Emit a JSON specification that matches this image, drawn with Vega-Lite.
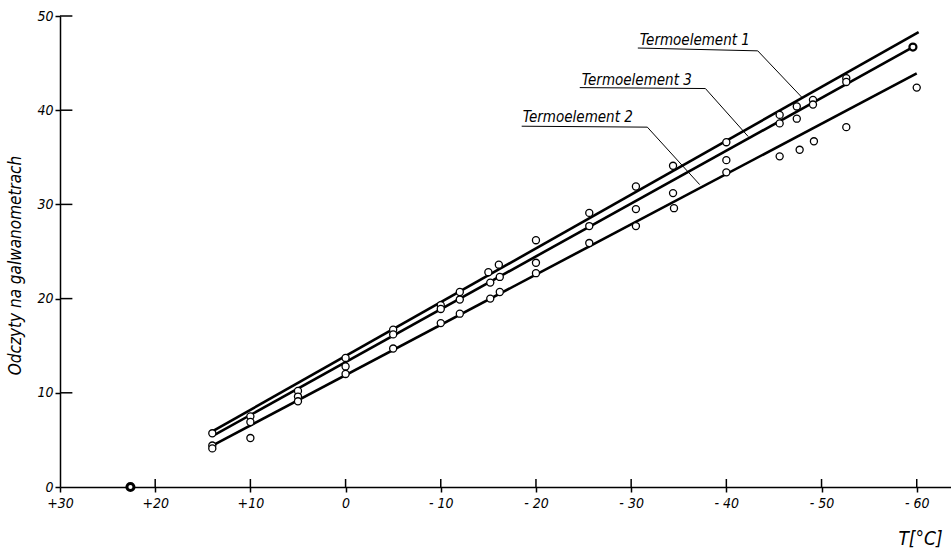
{
  "$schema": "https://vega.github.io/schema/vega-lite/v6.json",
  "autosize": "none",
  "width": 891,
  "height": 471,
  "padding": {"left": 60, "top": 16, "right": 0, "bottom": 62},
  "background": "white",
  "config": {
    "view": {"stroke": null},
    "font": "DejaVu Sans Condensed, DejaVu Sans, sans-serif",
    "axis": {
      "domainColor": "black", "domainWidth": 1.5, "tickColor": "black", "tickWidth": 1.5,
      "labelColor": "black", "titleColor": "black", "grid": false,
      "labelFont": "DejaVu Sans Condensed, DejaVu Sans, sans-serif", "labelFontStyle": "italic", "labelFontSize": 14, "labelFontWeight": "normal",
      "titleFont": "DejaVu Sans Condensed, DejaVu Sans, sans-serif", "titleFontStyle": "italic", "titleFontWeight": "normal"
    }
  },
  "datasets": {
    "points": [
      {"T": 22.6, "R": 0, "s": "1"}, {"T": 22.6, "R": 0, "s": "2"}, {"T": 22.6, "R": 0, "s": "3"},
      {"T": 14, "R": 5.7, "s": "1"}, {"T": 14, "R": 4.4, "s": "2"}, {"T": 14, "R": 4.1, "s": "3"},
      {"T": 10, "R": 7.5, "s": "1"}, {"T": 10, "R": 6.9, "s": "3"}, {"T": 10, "R": 5.2, "s": "2"},
      {"T": 5, "R": 10.2, "s": "1"}, {"T": 5, "R": 9.6, "s": "3"}, {"T": 5, "R": 9.1, "s": "2"},
      {"T": 0, "R": 13.7, "s": "1"}, {"T": 0, "R": 12.8, "s": "3"}, {"T": 0, "R": 12.0, "s": "2"},
      {"T": -5, "R": 16.7, "s": "1"}, {"T": -5, "R": 16.2, "s": "3"}, {"T": -5, "R": 14.7, "s": "2"},
      {"T": -10, "R": 19.3, "s": "1"}, {"T": -10, "R": 18.9, "s": "3"}, {"T": -10, "R": 17.4, "s": "2"},
      {"T": -12, "R": 20.7, "s": "1"}, {"T": -12, "R": 19.9, "s": "3"}, {"T": -12, "R": 18.4, "s": "2"},
      {"T": -15, "R": 22.8, "s": "1"}, {"T": -15.2, "R": 21.7, "s": "3"}, {"T": -15.2, "R": 20.0, "s": "2"},
      {"T": -16.1, "R": 23.6, "s": "1"}, {"T": -16.2, "R": 22.3, "s": "3"}, {"T": -16.2, "R": 20.7, "s": "2"},
      {"T": -20, "R": 26.2, "s": "1"}, {"T": -20, "R": 23.8, "s": "3"}, {"T": -20, "R": 22.7, "s": "2"},
      {"T": -25.6, "R": 29.1, "s": "1"}, {"T": -25.6, "R": 27.7, "s": "3"}, {"T": -25.6, "R": 25.9, "s": "2"},
      {"T": -30.5, "R": 31.9, "s": "1"}, {"T": -30.5, "R": 29.5, "s": "3"}, {"T": -30.5, "R": 27.7, "s": "2"},
      {"T": -34.4, "R": 34.1, "s": "1"}, {"T": -34.4, "R": 31.2, "s": "3"}, {"T": -34.5, "R": 29.6, "s": "2"},
      {"T": -40, "R": 36.6, "s": "1"}, {"T": -40, "R": 34.7, "s": "3"}, {"T": -40, "R": 33.4, "s": "2"},
      {"T": -45.6, "R": 39.5, "s": "1"}, {"T": -45.6, "R": 38.6, "s": "3"}, {"T": -45.6, "R": 35.1, "s": "2"},
      {"T": -47.4, "R": 40.4, "s": "1"}, {"T": -47.4, "R": 39.1, "s": "3"}, {"T": -47.7, "R": 35.8, "s": "2"},
      {"T": -49.1, "R": 41.1, "s": "1"}, {"T": -49.1, "R": 40.6, "s": "3"}, {"T": -49.2, "R": 36.7, "s": "2"},
      {"T": -52.6, "R": 43.4, "s": "1"}, {"T": -52.6, "R": 43.0, "s": "3"}, {"T": -52.6, "R": 38.2, "s": "2"},
      {"T": -59.6, "R": 46.7, "s": "1"}, {"T": -59.6, "R": 46.7, "s": "3"}, {"T": -60, "R": 42.4, "s": "2"}
    ],
    "fits": [
      {"T": 14, "R": 5.9, "s": "1"}, {"T": -60.2, "R": 48.3, "s": "1"},
      {"T": 14, "R": 5.4, "s": "3"}, {"T": -59.6, "R": 46.7, "s": "3"},
      {"T": 14, "R": 4.4, "s": "2"}, {"T": -60, "R": 43.9, "s": "2"}
    ],
    "leaders": [
      {"T": -30.7, "R": 46.6, "s": "1", "i": 0}, {"T": -43.3, "R": 46.3, "s": "1", "i": 1}, {"T": -47.9, "R": 41.4, "s": "1", "i": 2},
      {"T": -24.6, "R": 42.4, "s": "3", "i": 0}, {"T": -37.8, "R": 42.3, "s": "3", "i": 1}, {"T": -42.3, "R": 37.2, "s": "3", "i": 2},
      {"T": -18.5, "R": 38.3, "s": "2", "i": 0}, {"T": -31.7, "R": 38.2, "s": "2", "i": 1}, {"T": -37.2, "R": 32.1, "s": "2", "i": 2}
    ],
    "labels": [
      {"T": -30.9, "R": 46.9, "label": "Termoelement 1"},
      {"T": -24.8, "R": 42.7, "label": "Termoelement 3"},
      {"T": -18.6, "R": 38.7, "label": "Termoelement 2"}
    ]
  },
  "layer": [
    {"data": {"name": "fits"}, "mark": {"type": "line", "color": "black", "strokeWidth": 2.6},
      "encoding": {
        "x": {"field": "T", "type": "quantitative",
          "scale": {"domain": [-63.6, 30], "reverse": true, "nice": false, "zero": false},
          "axis": {"orient": "bottom", "values": [30, 20, 10, 0, -10, -20, -30, -40, -50, -60],
            "labelExpr": "datum.value > 0 ? '+' + datum.value : (datum.value < 0 ? '- ' + (-datum.value) : '0')",
            "ticks": true, "tickSize": 5, "labelPadding": 4, "labelFlush": false, "labelOverlap": false,
            "title": "T[°C]", "titleFontSize": 19, "titleX": 860, "titleY": 57, "titleAlign": "center", "titleBaseline": "alphabetic"}},
        "y": {"field": "R", "type": "quantitative",
          "scale": {"domain": [0, 50], "nice": false},
          "axis": {"orient": "left", "values": [0, 10, 20, 30, 40, 50], "ticks": true, "tickSize": 5, "labelPadding": 2, "labelOverlap": false,
            "title": "Odczyty na galwanometrach", "titleFontSize": 17, "titleX": -45, "titleY": 249, "titleAlign": "center", "titleBaseline": "middle", "titleAngle": -90}},
        "detail": {"field": "s"}}},
    {"data": {"values": [{"T": 20}, {"T": 10}, {"T": 0}, {"T": -10}, {"T": -20}, {"T": -30}, {"T": -40}, {"T": -50}, {"T": -60}]},
      "mark": {"type": "rule", "color": "black", "strokeWidth": 1.5},
      "encoding": {"x": {"field": "T", "type": "quantitative"}, "y": {"datum": 0, "type": "quantitative"}, "y2": {"datum": 0.85}}},
    {"data": {"values": [{"R": 10}, {"R": 20}, {"R": 30}, {"R": 40}, {"R": 50}]},
      "mark": {"type": "rule", "color": "black", "strokeWidth": 1.5},
      "encoding": {"y": {"field": "R", "type": "quantitative"}, "x": {"datum": 30, "type": "quantitative"}, "x2": {"datum": 28.7}}},
    {"data": {"name": "leaders"}, "mark": {"type": "line", "color": "black", "strokeWidth": 1},
      "encoding": {
        "x": {"field": "T", "type": "quantitative"},
        "y": {"field": "R", "type": "quantitative"},
        "detail": {"field": "s"}, "order": {"field": "i"}}},
    {"data": {"name": "points"},
      "transform": [{"aggregate": [{"op": "count", "as": "n"}], "groupby": ["T", "R"]}],
      "mark": {"type": "point", "shape": "circle", "filled": true, "fill": "white", "stroke": "black", "size": 50, "opacity": 1},
      "encoding": {
        "x": {"field": "T", "type": "quantitative"},
        "y": {"field": "R", "type": "quantitative"},
        "strokeWidth": {"field": "n", "type": "quantitative", "scale": {"domain": [1, 3], "range": [1.3, 3]}, "legend": null}}},
    {"data": {"name": "labels"}, "mark": {"type": "text", "align": "left", "baseline": "alphabetic", "fontSize": 15, "fontStyle": "italic", "font": "DejaVu Sans Condensed, DejaVu Sans, sans-serif", "color": "black"},
      "encoding": {
        "x": {"field": "T", "type": "quantitative"},
        "y": {"field": "R", "type": "quantitative"},
        "text": {"field": "label"}}}
  ]
}
